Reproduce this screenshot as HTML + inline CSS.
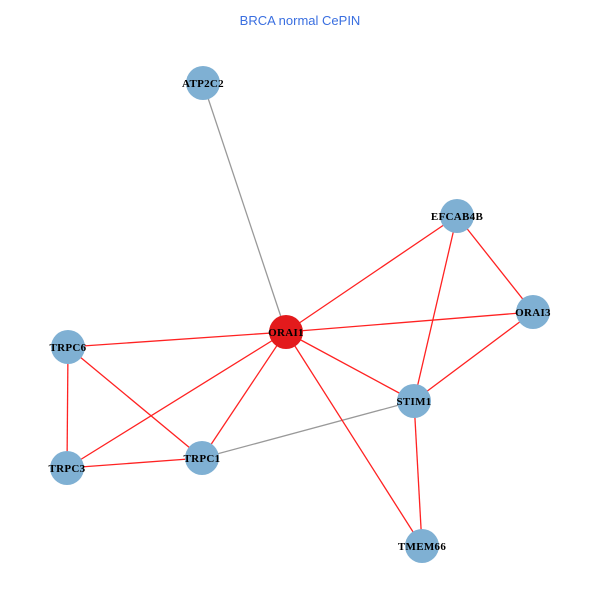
<!DOCTYPE html>
<html><head><style>body{margin:0;background:#fff}</style></head><body>
<svg width="600" height="600" xmlns="http://www.w3.org/2000/svg">
<rect width="600" height="600" fill="#fff"/>
<text x="300" y="25" text-anchor="middle" font-family="Liberation Sans, sans-serif" font-size="13" fill="#3a6fe0">BRCA normal CePIN</text>
<g stroke-width="1.3">
<line x1="203" y1="83" x2="286" y2="332" stroke="#999"/>
<line x1="414" y1="401" x2="202" y2="458" stroke="#999"/>
<g stroke="#f22">
<line x1="286" y1="332" x2="457" y2="216"/>
<line x1="286" y1="332" x2="533" y2="312"/>
<line x1="286" y1="332" x2="68" y2="347"/>
<line x1="286" y1="332" x2="414" y2="401"/>
<line x1="286" y1="332" x2="202" y2="458"/>
<line x1="286" y1="332" x2="67" y2="468"/>
<line x1="286" y1="332" x2="422" y2="546"/>
<line x1="457" y1="216" x2="533" y2="312"/>
<line x1="457" y1="216" x2="414" y2="401"/>
<line x1="533" y1="312" x2="414" y2="401"/>
<line x1="414" y1="401" x2="422" y2="546"/>
<line x1="68" y1="347" x2="67" y2="468"/>
<line x1="68" y1="347" x2="202" y2="458"/>
<line x1="67" y1="468" x2="202" y2="458"/>
</g></g>
<g fill="#7fb0d3">
<circle cx="203" cy="83" r="17"/><circle cx="457" cy="216" r="17"/><circle cx="533" cy="312" r="17"/>
<circle cx="68" cy="347" r="17"/><circle cx="414" cy="401" r="17"/><circle cx="202" cy="458" r="17"/>
<circle cx="67" cy="468" r="17"/><circle cx="422" cy="546" r="17"/>
</g>
<circle cx="286" cy="332" r="17" fill="#e31a1c"/>
<g font-family="Liberation Serif, serif" font-weight="bold" font-size="11" letter-spacing="0.3" text-anchor="middle" fill="#000">
<text x="203" y="87">ATP2C2</text><text x="457" y="220">EFCAB4B</text><text x="533" y="316">ORAI3</text>
<text x="286" y="336">ORAI1</text><text x="68" y="351">TRPC6</text><text x="414" y="405">STIM1</text>
<text x="202" y="462">TRPC1</text><text x="67" y="472">TRPC3</text><text x="422" y="550">TMEM66</text>
</g>
</svg>
</body></html>
